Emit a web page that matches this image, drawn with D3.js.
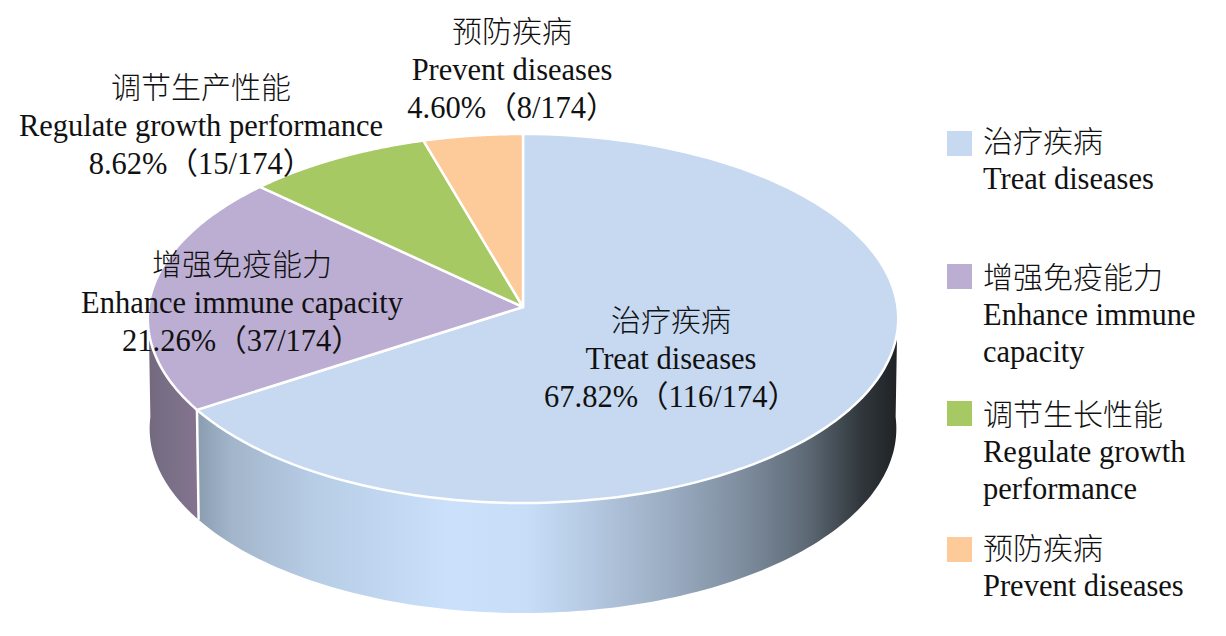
<!DOCTYPE html>
<html><head><meta charset="utf-8">
<script src="https://cdnjs.cloudflare.com/ajax/libs/d3/7.8.5/d3.min.js"></script>
<style>
html,body{margin:0;padding:0;background:#fff}
svg{display:block}
text{font-family:"Liberation Serif","Noto Sans CJK SC",serif;fill:#111}
text.zh{font-weight:300}
</style></head><body>
<svg id="c" width="1226" height="636"></svg>
<script>
const categories = ["治疗疾病","增强免疫能力","调节生长性能","预防疾病"];
const categoriesEn = ["Treat diseases","Enhance immune capacity","Regulate growth performance","Prevent diseases"];
const counts = [116,37,15,8];
const colors = ["#c6d9f1","#bcaed3","#a6c964","#fdca9a"];
const sliceLabelZh = ["治疗疾病","增强免疫能力","调节生产性能","预防疾病"];
const sliceLabelPct = ["67.82%（116/174）","21.26%（37/174）","8.62%（15/174）","4.60%（8/174）"];
const legendLinesEn = [["Treat diseases"],["Enhance immune","capacity"],["Regulate growth","performance"],["Prevent diseases"]];

// layout
const apex = {x:523,y:307}, R = 374.5, S = 183.8, K = 0.0623, depth = 110;
const labelPos = [{x:671,y:331},{x:242,y:275},{x:201,y:98},{x:512,y:42}];
const lineGap = 38;
const legendX = 947, textX = 983, legendY = [131,264,401,537], legendTextY = [152,288,425,559], legendSwatch = 25;
const frontFrom = Math.PI/2, frontTo = 3*Math.PI/2;

const svg = d3.select("#c");
const pie = d3.pie().sort(null).value(d=>d);
const arcs = pie(counts);

// perspective projection of the unit disc, angle clockwise from the top
function proj(a, r=1, dy=0, sx=1){
  const u = r*Math.sin(a), v = r*Math.cos(a), w = 1 + K*v;
  return [apex.x + sx*R*u/w, apex.y - S*v/w + dy];
}
const line = d3.line();
function rim(a0,a1,dy=0,sx=1){
  const t = d3.scaleLinear([0,120],[a0,a1]);
  return d3.range(0,121).map(i=>proj(t(i),1,dy,sx));
}

// gradients
const defs = svg.append("defs");
function grad(id, stops, x1, x2){
  const g = defs.append("linearGradient").attr("id",id).attr("gradientUnits","userSpaceOnUse")
    .attr("x1",x1).attr("x2",x2).attr("y1",0).attr("y2",0);
  stops.forEach(([o,c])=>g.append("stop").attr("offset",o).attr("stop-color",c));
}
grad("w0",[[0,"#8a9db0"],[0.05,"#a2b5ca"],[0.16,"#b6cbe4"],[0.36,"#cbe1fb"],[0.47,"#c8def8"],[0.56,"#b5c9e2"],[0.68,"#99abc0"],[0.78,"#7e8d9e"],[0.87,"#5e6a76"],[0.95,"#30363b"],[1,"#1f2326"]],197,897);
grad("w1",[[0,"#736a80"],[0.6,"#7c7189"],[1,"#85728f"]],150,197);

// side walls: only the front half of the rim is ever visible
const walls = svg.append("g");
arcs.forEach((d,i)=>{
  const a0 = Math.max(d.startAngle,frontFrom), a1 = Math.min(d.endAngle,frontTo);
  if(a1<=a0) return;
  const pts = rim(a0,a1).concat(rim(a0,a1,depth,0.995).reverse());
  walls.append("path").attr("d",line(pts)+"Z").attr("fill",`url(#w${i})`);
});
const seam = arcs[0].endAngle;
walls.append("path").attr("d",line([proj(seam),proj(seam,1,depth,0.995)]))
  .attr("stroke","#fff").attr("stroke-width",2.5).attr("fill","none");

// top slices
svg.append("g").selectAll("path").data(arcs).join("path")
  .attr("d",d=>line([[apex.x,apex.y],...rim(d.startAngle,d.endAngle)])+"Z")
  .attr("fill",(d,i)=>colors[i])
  .attr("stroke","#fff").attr("stroke-width",2.5).attr("stroke-linejoin","round");

// slice labels
const lab = svg.append("g").attr("text-anchor","middle");
labelPos.forEach((p,i)=>{
  lab.append("text").attr("class","zh").attr("x",p.x).attr("y",p.y).attr("font-size",30).text(sliceLabelZh[i]);
  lab.append("text").attr("x",p.x).attr("y",p.y+lineGap).attr("font-size",30.5).text(categoriesEn[i]);
  lab.append("text").attr("x",p.x).attr("y",p.y+2*lineGap).attr("font-size",30.5).text(sliceLabelPct[i]);
});

// legend
const leg = svg.append("g");
categories.forEach((c,i)=>{
  leg.append("rect").attr("x",legendX).attr("y",legendY[i]).attr("width",legendSwatch).attr("height",legendSwatch).attr("fill",colors[i]);
  leg.append("text").attr("class","zh").attr("x",textX).attr("y",legendTextY[i]).attr("font-size",30).text(c);
  legendLinesEn[i].forEach((t,j)=>{
    leg.append("text").attr("x",textX).attr("y",legendTextY[i]+37*(j+1)).attr("font-size",30.5).text(t);
  });
});
</script></body></html>
